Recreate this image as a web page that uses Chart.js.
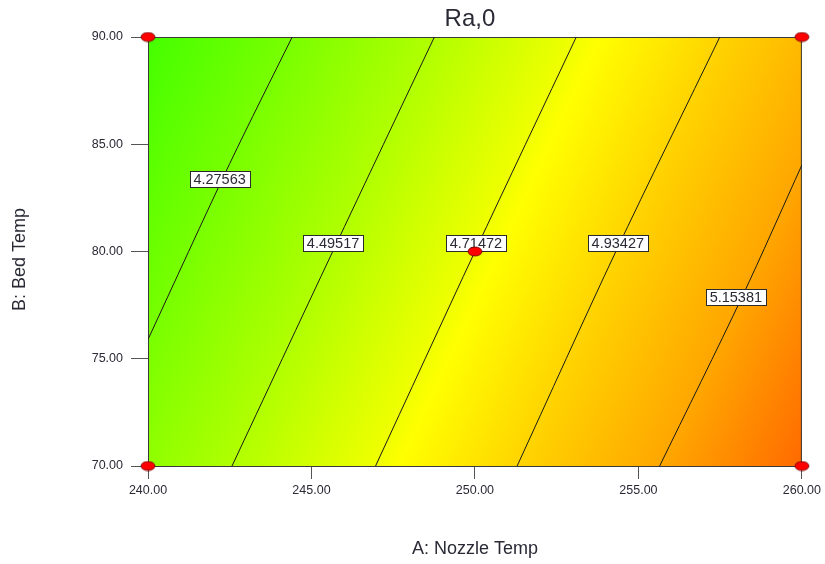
<!DOCTYPE html>
<html>
    <head>
        <meta charset = "UTF-8">
        <title>Ra,0 contour</title>
        <style>
            body{margin:0;background:#fff;}
            canvas{display:block;}
        </style>
    </head>
    <body>
        <canvas id = "chartCanvas" width = "825" height = "564"></canvas>
        <script src = "https://cdn.jsdelivr.net/npm/chart.js@4/dist/chart.umd.min.js"></script>
        <script>
            //contour levels and the points each line goes through
            const levels = [4.27563,4.49517,4.71472,4.93427,5.15381];
            const contourX = [
                [244.41,242.5,240],
                [248.76,245.65,242.57],
                [253.10,250.0,246.96],
                [257.49,254.31,251.29],
                [260,258.17,255.65]
            ];
            const contourY = [
                [90,84.1,75.9],
                [90,80,70],
                [90,80,70],
                [90,80,70],
                [84.03,77.88,70]
            ];
            //where the level labels sit
            const labelX = [242.19,245.66,250.03,254.37,257.98];
            const labelY = [83.39,80.38,80.38,80.38,77.88];

            //design points (corners + centre)
            const designX = [240,260,240,260,250];
            const designY = [90,90,70,70,80];

            const xTicks = [240,245,250,255,260];
            const yTicks = [70,75,80,85,90];

            //colour of the surface at a given response value
            const colourStops = [
                [4.06,'#44ff00'],
                [4.2756,'#78ff00'],
                [4.4952,'#b0ff00'],
                [4.7147,'#f0ff00'],
                [4.75,'#ffff00'],
                [4.9343,'#ffd400'],
                [5.1538,'#ffa600'],
                [5.37,'#ff6a00']
            ];

            const FONT = "'Liberation Sans', Arial, sans-serif";
            const TEXT = '#2a2a36';

            //red ellipse used as the point style
            const dot = document.createElement('canvas');
            dot.width = 16; dot.height = 11;
            const dc = dot.getContext('2d');
            dc.beginPath();
            dc.ellipse(8,5.5,7,4.5,0,0,2*Math.PI);
            dc.fillStyle = '#ff0000';
            dc.fill();
            dc.lineWidth = 0.8;
            dc.strokeStyle = '#6a0000';
            dc.stroke();

            const datasets = [{
                label:'Design points',
                data:designX.map((x,i)=>({x:x,y:designY[i]})),
                pointStyle:dot,
                pointRadius:6,
                showLine:false,
                clip:false
            }];
            levels.forEach((lv,k)=>{
                datasets.push({
                    label:lv.toFixed(5),
                    data:contourX[k].map((x,i)=>({x:x,y:contourY[k][i]})),
                    showLine:true,
                    borderColor:'#1a1a1a',
                    borderWidth:1,
                    pointRadius:0,
                    tension:0.3
                });
            });

            //fills the plot area with the response gradient + frame
            const surface = {
                id:'surface',
                beforeDatasetsDraw(chart)
                {
                    const {ctx,chartArea:a,scales:{x,y}} = chart;
                    const px = (vx,vy)=>[x.getPixelForValue(vx),y.getPixelForValue(vy)];
                    const L = levels.length;
                    const m = Math.floor(L/2);
                    const p0 = px(contourX[m][0],contourY[m][0]);
                    const p1 = px(contourX[m][contourX[m].length-1],contourY[m][contourY[m].length-1]);
                    const len = Math.hypot(p1[0]-p0[0],p1[1]-p0[1]);
                    let nx = -(p1[1]-p0[1])/len, ny = (p1[0]-p0[0])/len;
                    if(nx<0){nx=-nx;ny=-ny;}
                    const proj = p=>p[0]*nx+p[1]*ny;
                    const sFirst = proj(px(contourX[0][1],contourY[0][1]));
                    const sLast = proj(px(contourX[L-1][1],contourY[L-1][1]));
                    const vToS = v=>sFirst+(v-levels[0])*(sLast-sFirst)/(levels[L-1]-levels[0]);
                    const corners = [[a.left,a.top],[a.right,a.top],[a.left,a.bottom],[a.right,a.bottom]].map(proj);
                    const sMin = Math.min(...corners), sMax = Math.max(...corners);
                    const g = ctx.createLinearGradient(nx*sMin,ny*sMin,nx*sMax,ny*sMax);
                    colourStops.forEach(([v,c])=>{
                        const t = Math.min(1,Math.max(0,(vToS(v)-sMin)/(sMax-sMin)));
                        g.addColorStop(t,c);
                    });
                    ctx.save();
                    ctx.fillStyle = g;
                    ctx.fillRect(a.left,a.top,a.right-a.left,a.bottom-a.top);
                    ctx.strokeStyle = '#3a3a3a';
                    ctx.lineWidth = 1;
                    ctx.strokeRect(a.left+0.5,a.top+0.5,a.right-a.left-1,a.bottom-a.top);
                    ctx.restore();
                },
                //labels go under the design points (dataset 0 is drawn last)
                beforeDatasetDraw(chart,args)
                {
                    if(args.index!==0) return;
                    const {ctx,scales:{x,y}} = chart;
                    ctx.save();
                    ctx.font = '14.5px '+FONT;
                    ctx.textAlign = 'center';
                    ctx.textBaseline = 'middle';
                    levels.forEach((lv,k)=>{
                        const cx = x.getPixelForValue(labelX[k]);
                        const cy = y.getPixelForValue(labelY[k]);
                        const txt = lv.toFixed(5);
                        const w = Math.round(ctx.measureText(txt).width)+8;
                        const h = 16;
                        const bx = Math.round(cx-w/2)+0.5, by = Math.round(cy-h/2)+0.5;
                        ctx.fillStyle = '#ffffff';
                        ctx.fillRect(bx,by,w,h);
                        ctx.strokeStyle = '#2a2a2a';
                        ctx.lineWidth = 1;
                        ctx.strokeRect(bx,by,w,h);
                        ctx.fillStyle = TEXT;
                        ctx.fillText(txt,cx,cy+1);
                    });
                    ctx.restore();
                },
                afterDraw(chart)
                {
                    const {ctx,chartArea:a} = chart;
                    ctx.save();
                    ctx.fillStyle = TEXT;
                    //title
                    ctx.font = '24px '+FONT;
                    ctx.textAlign = 'center';
                    ctx.textBaseline = 'alphabetic';
                    ctx.fillText('Ra,0',(a.left+a.right)/2-5,26);
                    //y axis title, rotated
                    ctx.font = '18px '+FONT;
                    ctx.translate(25,(a.top+a.bottom)/2+8);
                    ctx.rotate(-Math.PI/2);
                    ctx.fillText('B: Bed Temp',0,0);
                    ctx.restore();
                }
            };

            const chart = new Chart(document.getElementById('chartCanvas'),{
                type:'scatter',
                data:{datasets:datasets},
                options:{
                    responsive:false,
                    animation:false,
                    layout:{padding:{top:37,right:22,left:0,bottom:0}},
                    plugins:{
                        legend:{display:false},
                        tooltip:{enabled:false}
                    },
                    scales:{
                        x:{
                            type:'linear',
                            min:240,max:260,
                            afterBuildTicks:s=>{s.ticks = xTicks.map(v=>({value:v}));},
                            afterFit:s=>{s.height = 98;},
                            ticks:{
                                callback:v=>Number(v).toFixed(2),
                                color:TEXT,
                                font:{family:FONT,size:12.5},
                                padding:4,
                                maxRotation:0,
                                autoSkip:false
                            },
                            grid:{drawOnChartArea:false,drawTicks:true,tickLength:13,color:'#555555'},
                            border:{display:true,color:'#3a3a3a'},
                            title:{
                                display:true,
                                text:'A: Nozzle Temp',
                                color:TEXT,
                                font:{family:FONT,size:18},
                                padding:{top:0,bottom:4}
                            }
                        },
                        y:{
                            type:'linear',
                            min:70,max:90,
                            afterBuildTicks:s=>{s.ticks = yTicks.map(v=>({value:v}));},
                            afterFit:s=>{s.width = 148;},
                            ticks:{
                                callback:v=>Number(v).toFixed(2),
                                color:TEXT,
                                font:{family:FONT,size:12.5},
                                padding:8,
                                autoSkip:false
                            },
                            grid:{drawOnChartArea:false,drawTicks:true,tickLength:17,color:'#555555'},
                            border:{display:true,color:'#3a3a3a'}
                        }
                    }
                },
                plugins:[surface]
            });
        </script>
    </body>
</html>
